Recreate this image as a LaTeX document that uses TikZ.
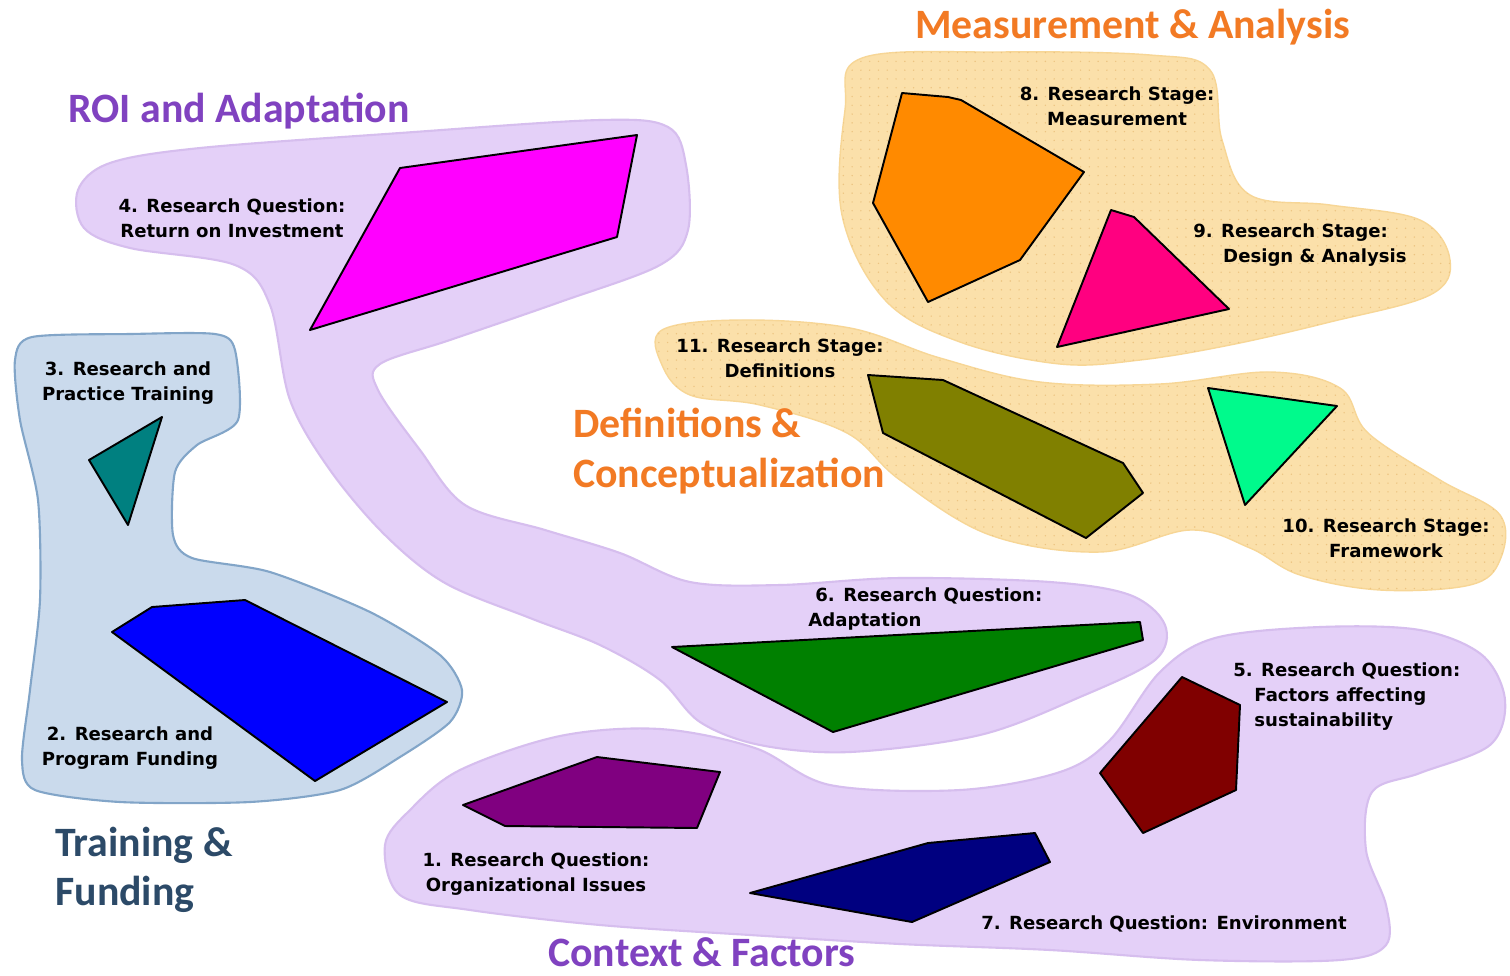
\documentclass[tikz,border=0pt]{standalone}
\usepackage{fontspec}
\setmainfont{Carlito}
\newfontfamily\labfont{DejaVu Sans}
\usetikzlibrary{patterns.meta}
\definecolor{lav}{RGB}{228,208,248}
\definecolor{lavedge}{RGB}{214,190,238}
\definecolor{beige}{RGB}{251,224,170}
\definecolor{beigeedge}{RGB}{247,214,150}
\definecolor{dotc}{RGB}{236,196,130}
\definecolor{lblue}{RGB}{202,218,236}
\definecolor{blueedge}{RGB}{130,165,200}
\definecolor{horange}{RGB}{242,122,36}
\definecolor{hpurple}{RGB}{128,66,192}
\definecolor{hslate}{RGB}{44,74,104}
\definecolor{cmagenta}{RGB}{255,0,255}
\definecolor{corange}{RGB}{255,138,0}
\definecolor{cpink}{RGB}{255,0,128}
\definecolor{colive}{RGB}{128,128,0}
\definecolor{cspring}{RGB}{0,250,140}
\definecolor{cteal}{RGB}{0,128,128}
\definecolor{cblue}{RGB}{0,0,255}
\definecolor{cgreen}{RGB}{0,128,0}
\definecolor{cpurple}{RGB}{128,0,128}
\definecolor{cmaroon}{RGB}{128,0,0}
\definecolor{cnavy}{RGB}{0,0,128}
\tikzset{
  regionP/.style={fill=lav, draw=lavedge, line width=1.2pt},
  regionO/.style={fill=beige, draw=beigeedge, line width=0.8pt,
    postaction={pattern={Dots[radius=0.45pt,distance=5pt]}, pattern color=dotc}},
  regionB/.style={fill=lblue, draw=blueedge, line width=1.2pt},
  poly/.style={draw=black, line width=1.1pt, line join=round},
  lab/.style={font=\labfont\bfseries\fontsize{10.3}{14.2}\selectfont, align=center, inner sep=0pt, text=black},
  head/.style={font=\bfseries\fontsize{23.8}{28}\selectfont, inner sep=0pt, anchor=west, align=left},
}
\begin{document}
\begin{tikzpicture}[x=0.02cm,y=-0.02cm]
\useasboundingbox (0,0) rectangle (1510,975);
\fill[white] (0,0) rectangle (1510,975);

% ---------- regions ----------
% Measurement & Analysis
\path[regionO] plot[smooth cycle, tension=0.6] coordinates {
 (862,58) (1000,52) (1150,55) (1210,70) (1222,140) (1250,195) (1330,205)
 (1420,220) (1450,260) (1430,295) (1330,322) (1230,345) (1140,360) (1060,364)
 (960,342) (885,300) (842,215) (845,110)};
% Definitions & Conceptualization
\path[regionO] plot[smooth cycle, tension=0.6] coordinates {
 (662,330) (740,320) (850,328) (940,358) (1040,382) (1160,384) (1270,372)
 (1340,388) (1368,433) (1440,480) (1500,515) (1500,560) (1470,585) (1380,590)
 (1300,575) (1250,548) (1190,530) (1100,552) (990,535) (900,480) (847,433)
 (760,405) (690,395) (662,365)};
% ROI and Adaptation
\path[regionP] plot[smooth cycle, tension=0.55] coordinates {
 (78,190) (110,163) (200,148) (400,133) (600,120) (668,127) (686,165)
 (688,230) (660,265) (560,302) (450,340) (380,364) (378,390) (420,450)
 (465,505) (545,530) (620,553) (690,582) (780,585) (900,578) (1050,582)
 (1130,595) (1165,625) (1155,660) (1080,697) (980,735) (850,752) (760,745)
 (700,722) (660,680) (600,645) (530,618) (445,583) (385,535) (330,470)
 (290,400) (270,305) (235,265) (130,248) (84,228)};
% Context & Factors
\path[regionP] plot[smooth cycle, tension=0.55] coordinates {
 (385,845) (410,810) (460,770) (560,736) (660,729) (755,748) (830,785)
 (960,790) (1060,772) (1110,740) (1160,672) (1215,638) (1320,627) (1420,630)
 (1482,655) (1505,700) (1490,745) (1420,773) (1372,792) (1366,850) (1386,905)
 (1386,945) (1340,960) (1200,960) (1050,950) (900,944) (750,935) (600,925)
 (470,910) (400,895)};
% Training & Funding
\path[regionB] plot[smooth cycle, tension=0.45] coordinates {
 (15,360) (32,337) (130,334) (215,334) (235,350) (238,420) (197,445)
 (175,472) (173,535) (192,558) (270,572) (370,612) (440,655) (462,690)
 (450,722) (400,757) (340,790) (250,802) (120,802) (35,790) (22,760)
 (30,690) (40,600) (38,500) (20,420)};

% ---------- polygons ----------
\draw[poly, fill=cmagenta] (310,330) -- (400,168) -- (637,135) -- (617,237) -- cycle;
\draw[poly, fill=corange] (902,93) -- (948,97) -- (961,100) -- (1084,172) -- (1020,260) -- (928,302) -- (873,203) -- cycle;
\draw[poly, fill=cpink] (1111,210) -- (1134,217) -- (1229,309) -- (1057,347) -- cycle;
\draw[poly, fill=colive] (868,375) -- (943,380) -- (1123,463) -- (1143,493) -- (1086,538) -- (883,433) -- cycle;
\draw[poly, fill=cspring] (1208,388) -- (1337,406) -- (1245,505) -- cycle;
\draw[poly, fill=cteal] (89,460) -- (162,417) -- (128,525) -- cycle;
\draw[poly, fill=cblue] (112,632) -- (152,607) -- (245,600) -- (447,702) -- (315,781) -- cycle;
\draw[poly, fill=cgreen] (672,647) -- (1140,622) -- (1143,640) -- (833,732) -- cycle;
\draw[poly, fill=cpurple] (463,805) -- (597,757) -- (720,772) -- (697,828) -- (505,826) -- cycle;
\draw[poly, fill=cmaroon] (1182,677) -- (1240,705) -- (1236,790) -- (1143,833) -- (1100,773) -- cycle;
\draw[poly, fill=cnavy] (750,893) -- (928,843) -- (1035,833) -- (1050,862) -- (912,922) -- cycle;

% ---------- headings ----------
\node[head, text=horange] (hMA) at (915,27) {Measurement \& Analysis};
\node[head, text=hpurple] (hROI) at (68,111) {ROI and Adaptation};
\node[head, text=horange] (hDC) at (573,451) {Definitions \&\\Conceptualization};
\node[head, text=hslate] (hTF) at (55,870) {Training \&\\Funding};
\node[head, text=hpurple] (hCF) at (548,952) {Context \& Factors};

% ---------- labels ----------
\node[lab] (l4) at (232,218) {4. Research Question:\\Return on Investment};
\node[lab] (l8) at (1117,106) {8. Research Stage:\\Measurement};
\node[lab, align=left, anchor=west] (l9) at (1193,245) {9. Research Stage:\\\hspace*{17pt}Design \& Analysis};
\node[lab] (l11) at (780,358) {11. Research Stage:\\Definitions};
\node[lab] (l10) at (1386,538) {10. Research Stage:\\Framework};
\node[lab, align=left, anchor=west] (l6) at (808,609) {\hspace*{4pt}6. Research Question:\\Adaptation};
\node[lab, align=left, anchor=west] (l5) at (1233,697) {5. Research Question:\\\hspace*{12pt}Factors affecting\\\hspace*{12pt}sustainability};
\node[lab] (l1) at (536,874) {1. Research Question:\\Organizational Issues};
\node[lab] (l7) at (1164,924) {7. Research Question: Environment};
\node[lab] (l3) at (128,383) {3. Research and\\Practice Training};
\node[lab] (l2) at (130,748) {2. Research and\\Program Funding};
\end{tikzpicture}
\end{document}
